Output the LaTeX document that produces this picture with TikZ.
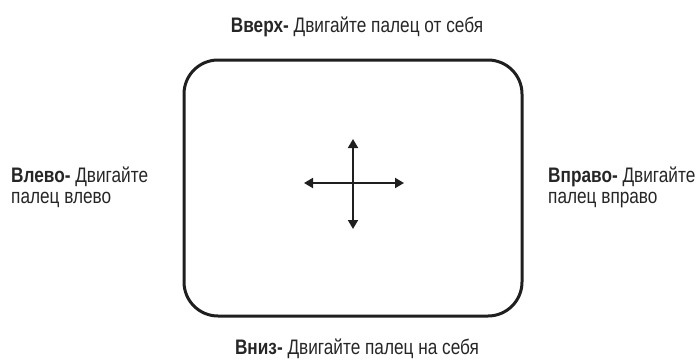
\documentclass[tikz,border=0pt]{standalone}
\usepackage{fontspec}
\setmainfont{Liberation Sans}[FakeStretch=0.82]
\usetikzlibrary{arrows.meta}
\begin{document}
\begin{tikzpicture}[x=1pt,y=-1pt,
  lbl/.style={inner sep=0pt,font=\fontsize{21}{21}\selectfont,text=black!85,align=left},
  frame/.style={draw=black!88,line width=3pt,rounded corners=34pt},
  arr/.style={draw=black!88,line width=1.8pt,{Triangle[length=9pt,width=10pt]}-{Triangle[length=9pt,width=10pt]}}]
\useasboundingbox (0,0) rectangle (698,359);
\node[frame,minimum width=338pt,minimum height=256pt,inner sep=0pt] (box) at (353,188) {};
\coordinate (c) at (353,183);
\coordinate (l) at (304,183);
\coordinate (r) at (404,183);
\coordinate (t) at (353,139);
\coordinate (b) at (353,229);
\draw[arr] (l) -- (r);
\draw[arr] (t) -- (b);
\node[lbl,anchor=base] (up) at (357,32) {\textbf{Вверх-} Двигайте палец от себя};
\node[lbl,anchor=base] (down) at (357,354) {\textbf{Вниз-} Двигайте палец на себя};
\node[lbl,anchor=base west] (left) at (11,203) {\textbf{Влево-} Двигайте\\палец влево};
\node[lbl,anchor=base west] (right) at (548,203) {\textbf{Вправо-} Двигайте\\палец вправо};
\end{tikzpicture}
\end{document}
